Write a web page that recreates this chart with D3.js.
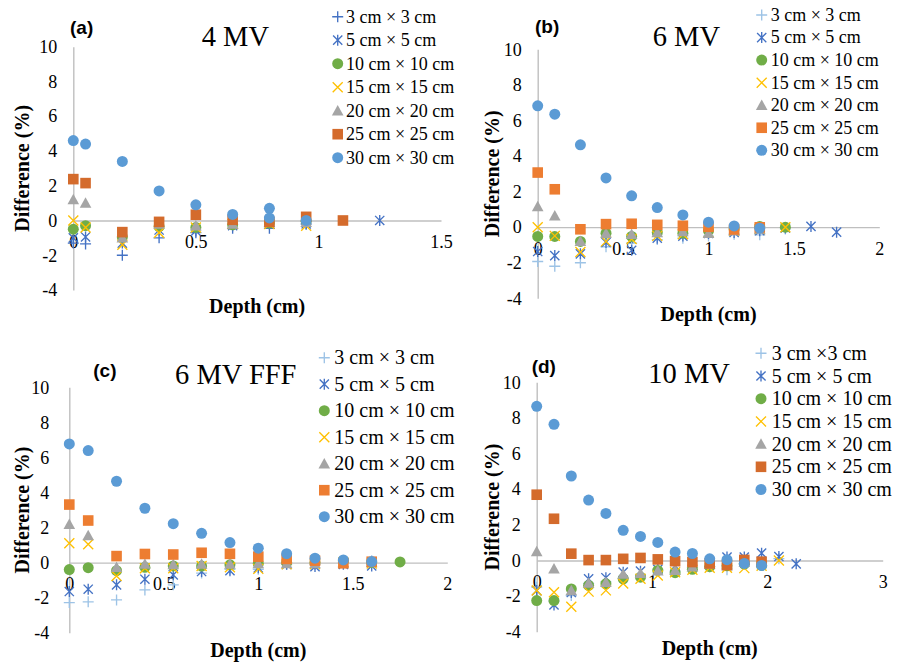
<!DOCTYPE html>
<html>
<head>
<meta charset="utf-8">
<script src="https://cdn.jsdelivr.net/npm/d3@7"></script>
<style>
  html, body { margin: 0; padding: 0; background: #fff; }
  svg { display: block; }
</style>
</head>
<body>
<svg id="chart" width="909" height="665"></svg>
<script>
// ---- Data: percentage difference vs. depth, one block per beam energy ----
const fieldLabels = ["3 cm \u00d7 3 cm", "5 cm \u00d7 5 cm", "10 cm \u00d7 10 cm", "15 cm \u00d7 15 cm",
                     "20 cm \u00d7 20 cm", "25 cm \u00d7 25 cm", "30 cm \u00d7 30 cm"];
const fieldLabelsD = ["3 cm \u00d73 cm", "5 cm \u00d7 5 cm", "10 cm \u00d7 10 cm", "15 cm \u00d7 15 cm",
                      "20 cm \u00d7 20 cm", "25 cm \u00d7 25 cm", "30 cm \u00d7 30 cm"];
const yTicks = [-4, -2, 0, 2, 4, 6, 8, 10];

// (a) 4 MV
const depthA = [0, 0.05, 0.2, 0.35, 0.5, 0.65, 0.8, 0.8, 0.95, 1.1, 1.25];
const a3  = [-1.3, -1.35, -2.0, -1.0, -0.7, -0.45, -0.45, null, -0.2, null, null];
const a5  = [-1.0, -0.95, -1.3, -0.55, -0.6, -0.3, -0.2, null, -0.2, null, 0];
const a10 = [-0.5, -0.3, -0.95, -0.35, -0.4, -0.25, -0.15, null, -0.05, null, null];
const a15 = [0, -0.4, -1.4, -0.7, -0.4, -0.2, -0.2, null, -0.3, null, null];
const a20 = [1.2, 1.0, -1.0, -0.2, -0.3, -0.2, -0.1, null, -0.1, null, null];
const a25 = [2.38, 2.15, -0.67, -0.08, 0.33, 0.04, -0.08, null, 0.21, 0, null];
const a30 = [4.6, 4.4, 3.4, 1.7, 0.9, 0.35, 0.7, 0.15, 0, null, null];
const xTicksA = [0, 0.5, 1, 1.5];

// (b) 6 MV
const depthB = [0, 0.1, 0.25, 0.4, 0.55, 0.7, 0.85, 1.0, 1.15, 1.3, 1.45, 1.6, 1.75];
const b3  = [-1.93, -2.2, -2.0, -1.1, -0.9, -0.7, -0.62, -0.5, -0.4, -0.43, -0.1, null, null];
const b5  = [-1.37, -1.6, -1.5, -0.86, -1.3, -0.62, -0.5, -0.35, -0.3, -0.2, -0.05, 0.04, -0.28];
const b10 = [-0.52, -0.52, -0.8, -0.34, -0.52, -0.3, -0.34, -0.2, -0.1, 0.04, 0, null, null];
const b15 = [0, -0.49, -1.4, -0.8, -0.67, -0.49, -0.4, -0.3, -0.2, -0.1, 0, null, null];
const b20 = [1.16, 0.64, -0.8, -0.34, -0.4, -0.3, -0.25, -0.34, -0.2, -0.1, null, null, null];
const b25 = [3.07, 2.13, -0.12, 0.17, 0.19, 0.13, 0.08, 0.02, -0.13, -0.01, null, null, null];
const b30 = [6.82, 6.35, 4.63, 2.77, 1.76, 1.1, 0.69, 0.28, 0.07, -0.06, null, null, null];
const xTicksB = [0, 0.5, 1, 1.5, 2];

// (c) 6 MV FFF
const depthC = [0, 0.1, 0.25, 0.4, 0.55, 0.7, 0.85, 1.0, 1.15, 1.3, 1.45, 1.6, 1.75];
const c3  = [-2.28, -2.24, -2.13, -1.56, -1.27, -0.6, -0.38, -0.38, -0.1, -0.1, 0, 0.1, null];
const c5  = [-1.65, -1.52, -1.27, -0.95, -0.7, -0.51, -0.46, -0.3, -0.1, -0.23, -0.1, -0.19, null];
const c10 = [-0.4, -0.29, -0.46, -0.27, -0.19, -0.2, -0.13, -0.05, 0, 0, 0.1, 0, 0.04];
const c15 = [1.1, 1.05, -0.76, -0.32, -0.32, -0.2, -0.27, -0.36, -0.1, -0.1, 0, -0.05, null];
const c20 = [2.19, 1.54, -0.27, -0.08, -0.11, -0.08, -0.08, -0.05, -0.05, -0.05, 0, 0, null];
const c25 = [3.31, 2.4, 0.37, 0.49, 0.46, 0.56, 0.5, 0.34, 0.21, 0.11, -0.04, 0.05, null];
const c30 = [6.77, 6.39, 4.64, 3.1, 2.22, 1.67, 1.14, 0.82, 0.51, 0.25, 0.15, 0.06, null];
const xTicksC = [0, 0.5, 1, 1.5, 2];

// (d) 10 MV
const depthD = [0, 0.15, 0.3, 0.45, 0.6, 0.75, 0.9, 1.05, 1.2, 1.35, 1.5, 1.65, 1.8, 1.95, 2.1, 2.25];
const d3v = [-1.5, -2.3, -1.97, -1.3, -1.2, -1.0, -0.8, -0.5, -0.6, -0.4, -0.35, -0.52, -0.2, -0.1, 0.1, null];
const d5  = [-1.69, -2.5, -1.8, -1.03, -0.97, -0.66, -0.6, -0.5, -0.3, -0.3, -0.2, 0.19, 0.19, 0.41, 0.22, -0.19];
const d10 = [-2.25, -2.25, -1.6, -1.4, -1.31, -1.03, -0.94, -0.56, -0.69, -0.5, -0.35, -0.3, -0.2, -0.28, null, null];
const d15 = [-1.69, -1.78, -2.6, -1.75, -1.68, -1.3, -1.03, -0.84, -0.66, -0.52, -0.41, -0.41, -0.43, -0.3, 0, null];
const d20 = [0.5, -0.47, -1.69, -1.27, -1.22, -0.77, -0.72, -0.58, -0.56, -0.35, -0.2, -0.2, -0.1, -0.1, null, null];
const d25 = [3.69, 2.34, 0.38, 0.02, 0.02, 0.09, 0.14, 0.06, -0.04, -0.09, -0.17, -0.26, 0.03, -0.07, null, null];
const d30 = [8.65, 7.64, 4.74, 3.39, 2.64, 1.69, 1.35, 1.01, 0.47, 0.39, 0.09, 0.04, -0.17, -0.28, null, null];
const xTicksD = [0, 1, 2, 3];

// ---- Marker styles (one per field size) ----
const shapes = ["plus", "asterisk", "circle", "cross", "triangle", "square", "circle"];
const paletteBase = ["#9DC3E6", "#4472C4", "#70AD47", "#FFC000", "#A5A5A5", "#ED7D31", "#5B9BD5"];
const paletteDark = ["#4472C4", "#4472C4", "#70AD47", "#FFC000", "#A5A5A5", "#D46B2C", "#5B9BD5"];
const paletteD    = ["#9DC3E6", "#4472C4", "#70AD47", "#FFC000", "#A5A5A5", "#D46B2C", "#5B9BD5"];

// ---- Panel layout ----
const panels = [
  { tag: "(a)", title: "4 MV", depth: depthA, series: [a3, a5, a10, a15, a20, a25, a30],
    colors: paletteDark, labels: fieldLabels, xTicks: xTicksA, xMax: 1.5,
    x0: 73.3, x1: 441, yTop: 46.7, yBot: 290,
    tagPos: [70, 34], titlePos: [201.7, 46], yTitleX: 22, xTitleY: 313,
    legend: { sx: 337.7, tx: 346, y0: 16.7, dy: 23.5, fs: 18 }, yPad: 16 },
  { tag: "(b)", title: "6 MV", depth: depthB, series: [b3, b5, b10, b15, b20, b25, b30],
    colors: paletteBase, labels: fieldLabels, xTicks: xTicksB, xMax: 2,
    x0: 537.7, x1: 879.3, yTop: 49.3, yBot: 298.3,
    tagPos: [535, 33], titlePos: [652.7, 45.7], yTitleX: 492, xTitleY: 321,
    legend: { sx: 761.7, tx: 770.7, y0: 15, dy: 22.55, fs: 18 }, yPad: 16 },
  { tag: "(c)", title: "6 MV FFF", depth: depthC, series: [c3, c5, c10, c15, c20, c25, c30],
    colors: paletteBase, labels: fieldLabels, xTicks: xTicksC, xMax: 2,
    x0: 69.3, x1: 447.3, yTop: 387.3, yBot: 632.7,
    tagPos: [93.3, 377], titlePos: [175, 384], yTitleX: 22, xTitleY: 657,
    legend: { sx: 324.3, tx: 334.3, y0: 357.7, dy: 26.5, fs: 20 }, yPad: 20 },
  { tag: "(d)", title: "10 MV", depth: depthD, series: [d3v, d5, d10, d15, d20, d25, d30],
    colors: paletteD, labels: fieldLabelsD, xTicks: xTicksD, xMax: 3,
    x0: 536.7, x1: 882.7, yTop: 382.3, yBot: 631.7,
    tagPos: [531.7, 373], titlePos: [648.3, 383], yTitleX: 492, xTitleY: 655,
    legend: { sx: 761, tx: 771.7, y0: 353.3, dy: 22.7, fs: 20 }, yPad: 16 }
];

const serif = "'Liberation Serif', 'Times New Roman', serif";
const sans = "'Liberation Sans', Arial, sans-serif";
const axisColor = "#BFBFBF";

const svg = d3.select("#chart");

// Draws one marker glyph centred on the group's origin
function drawMarker(g, shape, color) {
  const sw = 1.35;
  switch (shape) {
    case "plus":
      g.append("path").attr("d", "M-5.5,0H5.5M0,-5.5V5.5")
        .attr("stroke", color).attr("stroke-width", sw).attr("fill", "none");
      break;
    case "asterisk":
      g.append("path").attr("d", "M-4.6,-4.6L4.6,4.6M-4.6,4.6L4.6,-4.6M0,-5.5V5.5")
        .attr("stroke", color).attr("stroke-width", sw).attr("fill", "none");
      break;
    case "cross":
      g.append("path").attr("d", "M-5,-5L5,5M-5,5L5,-5")
        .attr("stroke", color).attr("stroke-width", sw).attr("fill", "none");
      break;
    case "circle":
      g.append("circle").attr("r", 5.5).attr("fill", color);
      break;
    case "triangle":
      g.append("path").attr("d", "M0,-5.8L5.8,4.7L-5.8,4.7Z").attr("fill", color);
      break;
    case "square":
      g.append("rect").attr("x", -5.3).attr("y", -5.3).attr("width", 10.6).attr("height", 10.6)
        .attr("fill", color);
      break;
  }
}

panels.forEach(p => {
  const x = d3.scaleLinear().domain([0, p.xMax]).range([p.x0, p.x1]);
  const y = d3.scaleLinear().domain([-4, 10]).range([p.yBot, p.yTop]);
  const g = svg.append("g");

  // vertical axis with labels
  const yAxis = d3.axisLeft(y).tickValues(yTicks).tickSize(0).tickPadding(p.yPad)
    .tickFormat(d => String(d));
  const yg = g.append("g").attr("transform", `translate(${x(0)},0)`).call(yAxis);
  yg.select(".domain").attr("stroke", axisColor).attr("stroke-width", 1.4);
  yg.selectAll("text").attr("font-family", serif).attr("font-size", 18).attr("fill", "#000");

  // horizontal axis along zero
  const xAxis = d3.axisBottom(x).tickValues(p.xTicks).tickSize(0).tickPadding(15)
    .tickFormat(d => String(d));
  const xg = g.append("g").attr("transform", `translate(0,${y(0)})`).call(xAxis);
  xg.select(".domain").attr("stroke", axisColor).attr("stroke-width", 1.4);
  xg.selectAll("text").attr("font-family", serif).attr("font-size", 18).attr("fill", "#000");

  // series markers (largest field drawn last)
  p.series.forEach((vals, si) => {
    const pts = vals.map((v, i) => ({ d: p.depth[i], v })).filter(o => o.v !== null);
    const sg = g.append("g");
    pts.forEach(o => {
      const mg = sg.append("g").attr("transform", `translate(${x(o.d)},${y(o.v)})`);
      drawMarker(mg, shapes[si], p.colors[si]);
    });
  });

  // panel tag and title
  g.append("text").attr("x", p.tagPos[0]).attr("y", p.tagPos[1]).text(p.tag)
    .attr("font-family", sans).attr("font-weight", "bold").attr("font-size", 19).attr("fill", "#000");
  g.append("text").attr("x", p.titlePos[0]).attr("y", p.titlePos[1]).text(p.title)
    .attr("font-family", serif).attr("font-size", 28.5).attr("fill", "#000");

  // axis titles
  const yMid = (p.yTop + p.yBot) / 2;
  g.append("text").attr("transform", `translate(${p.yTitleX + 7},${yMid}) rotate(-90)`)
    .attr("text-anchor", "middle").text("Difference (%)")
    .attr("font-family", serif).attr("font-weight", "bold").attr("font-size", 20).attr("fill", "#000");
  g.append("text").attr("x", (p.x0 + p.x1) / 2).attr("y", p.xTitleY)
    .attr("text-anchor", "middle").text("Depth (cm)")
    .attr("font-family", serif).attr("font-weight", "bold").attr("font-size", 20).attr("fill", "#000");

  // legend
  const L = p.legend;
  p.labels.forEach((lab, si) => {
    const cy = L.y0 + si * L.dy;
    const mg = g.append("g").attr("transform", `translate(${L.sx},${cy})`);
    drawMarker(mg, shapes[si], p.colors[si]);
    g.append("text").attr("x", L.tx).attr("y", cy + L.fs * 0.33).text(lab)
      .attr("font-family", serif).attr("font-size", L.fs).attr("fill", "#000");
  });
});
</script>
</body>
</html>
